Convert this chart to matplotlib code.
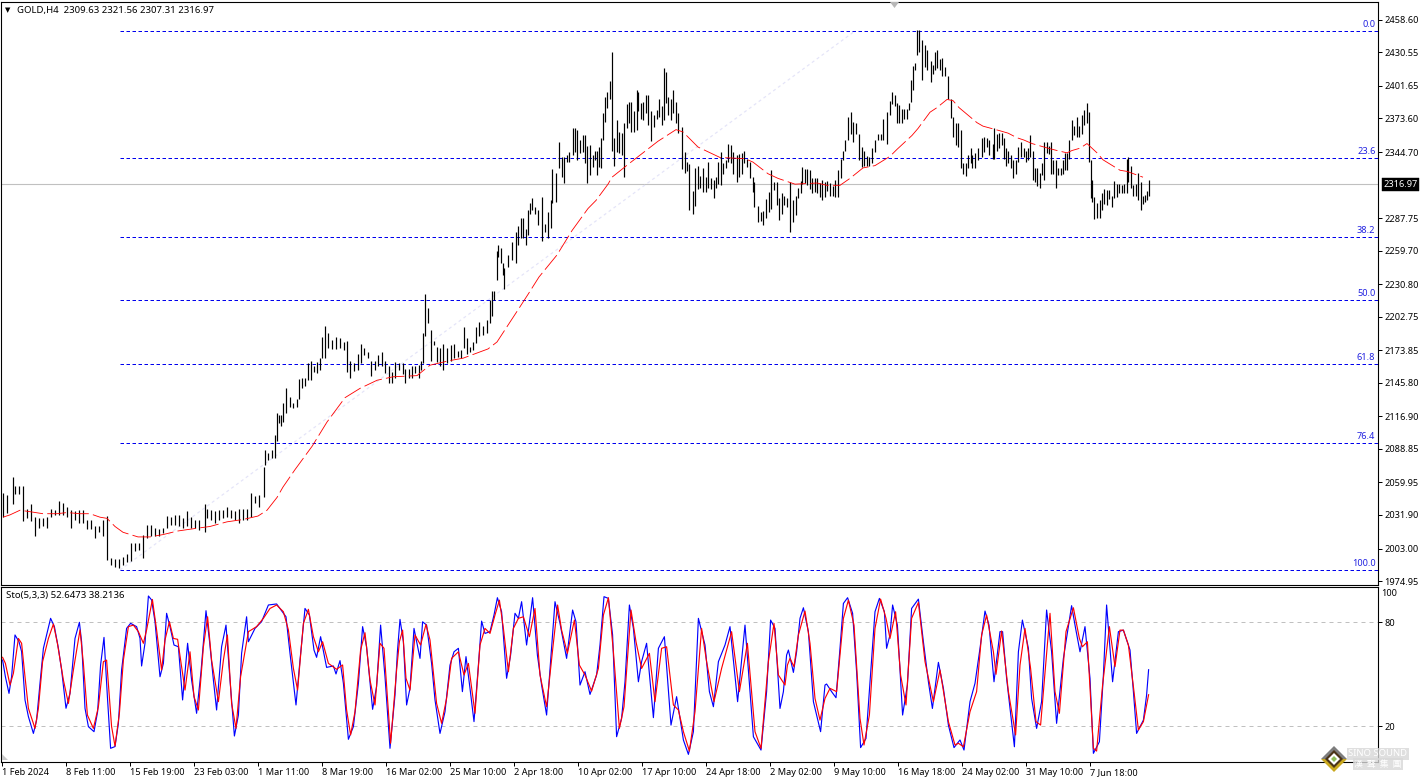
import numpy as np
import matplotlib
matplotlib.use('Agg')
import matplotlib.pyplot as plt
from matplotlib.patches import Polygon

# bar number on the 4H chart, 10 values per row in all three lists
bar_no = np.array([
    1.5, 3.5, 6.25, 7.5, 9.5, 11.5, 13.5, 15.5, 17.5, 19.5,
    21.5, 23.5, 25.5, 27.5, 29.5, 31.5, 33.5, 35.5, 37.5, 39.5,
    41.5, 43.5, 45.5, 47.5, 49.5, 51.5, 53.5, 55.5, 57.5, 59.5,
    61.5, 63.5, 65.5, 67.5, 69.5, 71.5, 73.5, 75.5, 77.5, 79.5,
    81.5, 83.5, 85.5, 87.5, 89.5, 91.5, 93.5, 95.5, 97.5, 99.5,
    102.5, 103.5, 105.5, 107.5, 109.5, 111.5, 113.5, 115.5, 117.5, 119.5,
    121.5, 123.5, 125.5, 127.5, 129.5, 132, 132.5, 134, 136, 137.5,
    138.5, 139.5, 140.5, 141.5, 143, 145, 146.5, 148.5, 149.5, 151,
    152.5, 154, 155.5, 157, 158.5, 160, 161, 162.5, 164, 166,
    168, 170, 172, 173.5, 175, 177, 179, 180.5, 182, 184,
    185.5, 187.5, 189, 191, 192.5, 194.5, 196, 197.5, 199.5, 201.5,
    202.5, 204.5, 206, 207.5, 209.5, 210.5, 211.5, 212.5, 214, 215.5,
    217, 218.5, 220, 221.5, 223.5, 225.5, 227, 229, 230.5, 232,
    233.5, 235, 236.5, 238, 239.5, 241.5, 243.5, 245, 246, 247,
    248.5, 249, 250.5, 251.5, 252, 254, 256, 258, 259, 260.5,
    261.5, 263, 264, 265, 266, 267.5, 269, 271, 272.5, 274,
    275.5, 276, 278, 279.5, 281, 282, 283.5, 284.5, 286.5, 287.5,
    288.5, 290, 291.5, 292.5, 293.5, 295, 296.5, 297.5, 298.5, 299.5,
    300.5, 301.5, 302.5, 303.5, 305, 306, 307, 308.5, 309.5, 311,
    312, 313.5, 314.5, 315.5, 317, 318.5, 319, 320.5, 321.5, 323,
    324, 325.5, 327, 328.5, 329.5, 331, 332, 333, 334, 335.5,
    336.5, 338, 339, 341, 342.5, 343.5, 344.5, 346.5, 347.5, 349,
    350, 351.5, 353, 354, 355.5, 357, 358, 359, 360.5, 361.5,
    363, 364, 365.5, 366.5, 368.5, 369.5, 371, 372, 373.5, 375,
    376.5, 377, 379, 380.5, 381.5, 383, 384.5, 385.5, 387, 388.5,
    389.5, 391, 392, 393.5, 395, 396.5, 398, 399, 400.5, 401,
    402.5, 403.5, 405, 406, 407.5, 408.5, 410, 411, 412.5, 413.5,
    415, 416.5, 417.5, 419, 420.5, 421.5, 422.5, 424, 425.5, 426.5,
    428, 429.5, 431, 432, 433.5, 434.5, 436, 437.5, 439, 440.5,
    441.5, 443.5, 445, 446, 447.5, 448.5, 449.5, 451, 452, 453.5,
    454.5, 455.5, 456.5, 457.5, 458.5, 459.5, 461, 462.5, 463.5, 465.5,
    466.5, 467.5, 468.5, 470, 471, 472.5, 474, 475.5, 476.5, 478,
    479, 480.5, 481.5, 483, 484, 485.5, 486, 487.5, 489, 491,
    492, 493.5, 494.5, 496.5, 497, 498.5, 499.5, 501, 502, 503,
    504, 505.5, 506.5, 508, 509, 510.5, 512, 513, 514, 515,
    516.5, 517.5, 518.5, 520, 521, 522, 523.5, 524.5, 525.5, 526.5,
    528, 529, 530.5, 531.5, 532.5, 533.5, 534.5, 536, 537, 538.5,
    539.5, 541, 542, 543.5, 544.5, 545.5, 546, 547, 548.5, 550,
    551, 552, 553.5, 554.5, 556, 557, 558.5, 559.5, 561, 562,
    563.5, 564, 565.5, 566.5, 568, 569, 570.5, 571.5, 572.5, 573.5,
    574.5,
])

high_price = [
    2051, 2049, 2065, 2057, 2057, 2057, 2037, 2041, 2030, 2029,
    2029, 2030, 2037, 2036, 2044, 2042, 2039, 2036, 2035, 2036,
    2036, 2028, 2028, 2022, 2022, 2028, 2031, 1995, 1994, 1994,
    1996, 1998, 2008, 2008, 2008, 2015, 2023, 2023, 2021, 2020,
    2021, 2031, 2030, 2032, 2032, 2029, 2035, 2030, 2028, 2028,
    2041, 2037, 2036, 2035, 2036, 2036, 2039, 2036, 2035, 2037,
    2037, 2037, 2051, 2048, 2049, 2073, 2088, 2085, 2088, 2101,
    2120, 2118, 2118, 2128, 2141, 2134, 2128, 2132, 2149, 2150,
    2150, 2163, 2165, 2160, 2164, 2167, 2185, 2195, 2189, 2183,
    2185, 2184, 2181, 2182, 2165, 2163, 2171, 2179, 2176, 2172,
    2165, 2165, 2170, 2172, 2165, 2160, 2155, 2164, 2163, 2163,
    2158, 2158, 2160, 2160, 2161, 2165, 2189, 2222, 2210, 2191,
    2182, 2177, 2176, 2179, 2176, 2178, 2179, 2173, 2174, 2194,
    2184, 2177, 2181, 2194, 2198, 2195, 2200, 2217, 2225, 2225,
    2259, 2265, 2262, 2249, 2245, 2256, 2267, 2276, 2281, 2288,
    2288, 2278, 2295, 2301, 2305, 2297, 2295, 2306, 2283, 2293,
    2303, 2330, 2327, 2353, 2340, 2340, 2342, 2345, 2365, 2365,
    2364, 2355, 2359, 2359, 2350, 2351, 2342, 2346, 2346, 2349,
    2357, 2378, 2392, 2396, 2406, 2431, 2357, 2372, 2362, 2361,
    2370, 2386, 2388, 2388, 2380, 2398, 2396, 2387, 2388, 2394,
    2394, 2380, 2377, 2381, 2390, 2384, 2417, 2414, 2392, 2390,
    2398, 2388, 2378, 2366, 2345, 2336, 2334, 2311, 2331, 2333,
    2324, 2331, 2323, 2336, 2322, 2321, 2323, 2336, 2345, 2335,
    2338, 2352, 2351, 2345, 2342, 2343, 2344, 2346, 2339, 2336,
    2323, 2319, 2298, 2293, 2294, 2304, 2310, 2329, 2319, 2319,
    2305, 2309, 2307, 2305, 2319, 2303, 2307, 2314, 2320, 2332,
    2330, 2330, 2329, 2322, 2322, 2322, 2318, 2321, 2319, 2320,
    2318, 2315, 2321, 2329, 2339, 2346, 2355, 2375, 2379, 2371,
    2370, 2360, 2349, 2346, 2341, 2340, 2348, 2355, 2360, 2360,
    2373, 2379, 2389, 2396, 2394, 2387, 2385, 2382, 2382, 2382,
    2387, 2407, 2419, 2421, 2450, 2450, 2441, 2437, 2433, 2423,
    2420, 2431, 2433, 2425, 2426, 2418, 2410, 2390, 2375, 2370,
    2370, 2364, 2335, 2335, 2342, 2348, 2342, 2344, 2348, 2357,
    2358, 2357, 2355, 2352, 2365, 2360, 2361, 2361, 2357, 2348,
    2346, 2342, 2338, 2338, 2349, 2353, 2348, 2346, 2348, 2359,
    2346, 2331, 2331, 2327, 2335, 2353, 2353, 2350, 2353, 2338,
    2338, 2331, 2331, 2338, 2344, 2344, 2355, 2372, 2367, 2375,
    2367, 2377, 2381, 2387, 2379, 2338, 2321, 2306, 2301, 2303,
    2309, 2313, 2312, 2312, 2307, 2320, 2317, 2317, 2316, 2317,
    2339, 2340, 2333, 2316, 2317, 2327, 2319, 2307, 2308, 2311,
    2321,
]

low_price = [
    2030, 2034, 2041, 2050, 2050, 2027, 2029, 2027, 2014, 2021,
    2022, 2021, 2030, 2032, 2032, 2032, 2030, 2021, 2028, 2025,
    2025, 2020, 2020, 2012, 2017, 2014, 1993, 1989, 1987, 1986,
    1989, 1991, 1992, 2001, 2002, 1995, 2012, 2014, 2014, 2014,
    2016, 2021, 2023, 2023, 2022, 2021, 2022, 2021, 2021, 2019,
    2017, 2029, 2028, 2025, 2028, 2029, 2030, 2029, 2028, 2025,
    2028, 2028, 2030, 2042, 2039, 2047, 2075, 2079, 2081, 2081,
    2096, 2111, 2109, 2112, 2120, 2125, 2124, 2125, 2132, 2141,
    2143, 2148, 2148, 2155, 2154, 2157, 2167, 2167, 2176, 2175,
    2175, 2176, 2174, 2155, 2150, 2156, 2157, 2163, 2170, 2167,
    2152, 2157, 2160, 2160, 2154, 2146, 2146, 2150, 2157, 2153,
    2146, 2150, 2150, 2154, 2150, 2157, 2163, 2186, 2197, 2165,
    2178, 2164, 2160, 2157, 2163, 2165, 2167, 2168, 2167, 2176,
    2171, 2172, 2174, 2180, 2186, 2187, 2189, 2197, 2203, 2217,
    2234, 2254, 2249, 2239, 2227, 2246, 2252, 2249, 2265, 2271,
    2271, 2265, 2273, 2291, 2295, 2291, 2282, 2268, 2276, 2271,
    2279, 2301, 2302, 2331, 2323, 2318, 2336, 2336, 2342, 2345,
    2338, 2344, 2345, 2335, 2318, 2325, 2332, 2338, 2325, 2332,
    2331, 2355, 2371, 2383, 2390, 2346, 2333, 2345, 2344, 2342,
    2323, 2365, 2370, 2362, 2362, 2364, 2380, 2373, 2372, 2378,
    2368, 2354, 2366, 2373, 2375, 2368, 2372, 2387, 2377, 2372,
    2378, 2370, 2361, 2330, 2327, 2328, 2295, 2291, 2298, 2313,
    2314, 2310, 2310, 2314, 2313, 2305, 2314, 2317, 2316, 2326,
    2331, 2336, 2335, 2326, 2319, 2323, 2326, 2335, 2332, 2322,
    2310, 2297, 2284, 2285, 2282, 2288, 2293, 2296, 2312, 2299,
    2286, 2291, 2299, 2297, 2276, 2284, 2290, 2305, 2309, 2317,
    2318, 2316, 2313, 2309, 2310, 2309, 2306, 2303, 2306, 2311,
    2307, 2307, 2306, 2306, 2322, 2338, 2346, 2355, 2360, 2353,
    2360, 2338, 2332, 2333, 2333, 2333, 2335, 2345, 2355, 2355,
    2355, 2352, 2377, 2386, 2384, 2370, 2370, 2370, 2373, 2373,
    2381, 2388, 2398, 2415, 2428, 2431, 2407, 2418, 2415, 2405,
    2412, 2415, 2417, 2415, 2410, 2410, 2390, 2374, 2358, 2351,
    2349, 2331, 2326, 2324, 2331, 2335, 2331, 2331, 2338, 2340,
    2345, 2349, 2342, 2339, 2339, 2346, 2348, 2351, 2339, 2333,
    2335, 2331, 2322, 2326, 2336, 2340, 2340, 2336, 2338, 2340,
    2321, 2319, 2315, 2314, 2325, 2321, 2344, 2343, 2326, 2326,
    2314, 2325, 2325, 2326, 2329, 2329, 2339, 2355, 2359, 2358,
    2358, 2360, 2368, 2370, 2336, 2305, 2302, 2287, 2288, 2288,
    2295, 2300, 2299, 2304, 2297, 2305, 2306, 2309, 2309, 2309,
    2309, 2319, 2314, 2307, 2307, 2303, 2295, 2300, 2302, 2303,
    2307,
]

ma_bar = [1.5, 5, 10, 14, 21.5, 28.5, 33.5, 40, 45, 50, 53.5, 57.5, 61.5, 69, 75,
          81.5, 88.5, 96.5, 105, 113.5, 121.5, 129, 133.5, 138.5, 141.5, 147.5,
          156, 163.5, 172.5, 180, 188.5, 196.5, 208.5, 215, 225, 231.5, 244, 248.5,
          259.5, 264, 269.5, 278.5, 286, 294, 298, 304, 306, 314, 318.5, 326, 329,
          338, 341.5, 349, 360, 372.5, 376.5, 384, 389, 397.5, 408.5, 413.5, 420,
          425, 431.5, 437.5, 445, 448.5, 456, 459, 465, 468.5, 473.5, 476.5, 479.5,
          488.5, 491.5, 500, 504, 508.5, 512, 516, 524, 528.5, 533.5, 536, 540,
          543.5, 548.5, 551.5, 560, 563.5, 571.5]
ma_price = [2030, 2032, 2036, 2035, 2033, 2033, 2034, 2033, 2033, 2030, 2029, 2022, 2017,
            2013, 2013, 2015, 2018, 2020, 2022, 2026, 2028, 2031, 2036, 2047, 2056, 2071,
            2091, 2112, 2133, 2141, 2148, 2151, 2152, 2161, 2165, 2167, 2175, 2181,
            2210, 2222, 2237, 2256, 2277, 2296, 2303, 2317, 2323, 2334, 2340, 2350, 2354,
            2364, 2362, 2349, 2340, 2339, 2336, 2326, 2322, 2317, 2318, 2316, 2316,
            2322, 2331, 2333, 2341, 2347, 2359, 2365, 2379, 2383, 2390, 2389, 2383,
            2370, 2367, 2363, 2361, 2357, 2355, 2352, 2348, 2346, 2344, 2346, 2348,
            2352, 2344, 2338, 2329, 2328, 2323]

# Sto(5,3,3) main line
sto_main_bar = [
    1.3, 2.7, 4.5, 5.8, 7.5, 9.5, 10.8, 12.5, 14.2, 16.7, 18.3, 20, 21.7, 23.3, 25.3,
    27.2, 29.2, 30.8, 33, 35, 37.5, 39.7, 40.8, 42.5, 44.2, 47, 48.8, 50.3, 52, 53.7,
    55.3, 57.5, 59.2, 60.8, 63.3, 65.3, 68.3, 70, 70.8, 72.5, 74.2, 75.8, 77.5, 80, 81.7,
    83.3, 85, 87, 89.2, 91.3, 93.8, 95.8, 98.3, 100.5, 103, 104.7, 106.7, 108.3, 110.8,
    113, 115, 117.2, 119.2, 120.8, 123.3, 124.2, 127.5, 130.8, 134.2, 138.3, 143, 145,
    148, 150, 152.5, 154.7, 157, 158.3, 160.3, 163.3, 166.7, 168, 170, 171.7, 174.2,
    176.7, 179.2, 181.3, 183.3, 186.3, 188.3, 190.3, 192.5, 195, 197.5, 198.7, 200, 201.7,
    203.3, 205, 207, 210, 211.3, 213.3, 215.8, 217.5, 220, 222.5, 225, 227, 229.2, 231.2,
    233, 235, 237, 239.2, 240.8, 242.5, 245, 247, 248.7, 250.8, 253.3, 255.3, 257.5,
    259.2, 260.8, 263.3, 266.3, 268.7, 270.8, 273.3, 275.3, 277.5, 280, 283.3, 286.3,
    288, 290, 292.5, 295, 298.3, 300, 302, 304.2, 306.3, 308.3, 310.8, 312.5, 314.7,
    316.7, 319.2, 320.8, 323.3, 326.7, 329.2, 332.2, 335.5, 338.3, 341.7, 344.2, 346.7,
    349.2, 352.5, 354.7, 356.7, 359.2, 362.5, 365, 368.8, 372.5, 376.7, 380.5, 383.3,
    385.3, 387.5, 390, 391.7, 393.3, 394.2, 396.7, 398.3, 400, 401.7, 404.2, 406.7, 408.7,
    410.3, 412.5, 413.3, 415.8, 418, 420, 421.7, 423.8, 426.3, 428.3, 430.3, 433, 435,
    437.5, 439.7, 442.2, 443.3, 445, 446.3, 448.7, 451.3, 453.7, 455.8, 459.2, 461.7,
    464.2, 466.2, 469.2, 471.7, 474.2, 477, 480, 482, 485, 487.5, 490, 492.5, 494.5, 497,
    500, 501.3, 503.3, 507.2, 509.2, 511.2, 514.2, 515.8, 518.3, 520.8, 523.3, 525.8,
    528.3, 531.7, 535.8, 537.8, 540, 542.5, 545, 546.7, 549.7, 551.7, 553.3, 556.3, 559.2,
    561.7, 565, 566.7, 568.3, 571.7, 573.3, 574.3,
]
sto_main = [
    58.2, 48.6, 39, 48.6, 72.7, 68.8, 63.1, 35.2, 25.6, 15.9, 23.6, 44.8, 65, 72.7, 82.3,
    77.5, 65, 52.5, 30.4, 39, 70.7, 80, 68.8, 30.4, 19.8, 16.9, 28.4, 55.4, 71.3, 37.1,
    7.3, 8.3, 21.7, 52.5, 76.5, 79.4, 77.5, 70.8, 54.8, 67.9, 95.2, 92.9, 80.4, 48.6, 56.3,
    85.2, 77.5, 66.9, 65.9, 35.2, 67.9, 46.7, 27.5, 51.5, 86.7, 69.8, 46.7, 29.4, 65.9,
    78.4, 46.7, 14.4, 26.5, 62.1, 83.2, 68.8, 76.5, 80.4, 90, 90.6, 83.2, 62.1,
    32.3, 58.2, 88, 84.2, 64, 59.8, 71.7, 54, 54.8, 50.2, 57.9, 44.8, 12.5,
    19.8, 44.8, 77.5, 65.9, 29.8, 42.9, 78.4, 48.6, 7.3, 38, 63, 81.7, 68.8,
    32.3, 41.9, 76.5, 59.2, 80.3, 78.4, 56.3, 35.2, 15.9, 28.4, 55.3, 63, 65, 40,
    60.2, 41.9, 22.7, 55.3, 80.7, 73.6, 74.6, 84.2, 94.2, 86.1, 47.7, 61.1, 85.2,
    82.3, 91.9, 66.9, 94.2, 61.1, 43.8, 26.5, 57.3, 91.9, 79.4, 59.2, 87.1,
    80.3, 43.8, 51.5, 38.4, 49.6, 66.9, 94.8, 93.8, 72.7, 14, 24.6, 45.7, 90,
    76.5, 45.7, 57.3, 67.9, 25, 65, 71.7, 20.7, 37.1, 12.1, 3.8, 16.9,
    82.3, 66.9, 40, 31.3, 57.3, 66.9, 77.5, 34.2, 78.4, 14, 6.3, 40,
    81.3, 76.5, 30.3, 40, 61.1, 64, 51.1, 63, 82.3, 88.4, 74.6, 34.2, 24.6,
    16.9, 43.8, 44.4, 40, 36.5, 65, 90.9, 94.2, 85.2, 51.5, 7.7, 13, 45.7,
    86.1, 93.8, 86.1, 65, 72.7, 90, 78.4, 26.5, 43.8, 88, 93.4, 68.8,
    45.7, 30.3, 56.9, 41.9, 20.7, 7.7, 12.1, 6.3, 34.2, 44.8, 65, 86.5, 78.4, 45.7,
    74.6, 74.6, 47.7, 8.2, 63, 81.3, 65, 36.1, 18.8, 34.2, 87.1, 63,
    21.7, 59.2, 89.6, 76.5, 63, 77.5, 47.7, 4.4, 11.1, 49.6, 90, 45.7, 74.6,
    75.5, 64, 40, 15.9, 23.6, 38, 52.6473,
]

# Sto(5,3,3) signal line
sto_signal_bar = [
    1.3, 2.7, 5, 6.7, 9.2, 10.8, 12.5, 14.2, 17.5, 19.2, 21.3, 24.2, 26.7, 28.7, 31.7,
    34.2, 36.7, 40, 41.7, 43.7, 46.7, 49.2, 51.7, 53.3, 55.8, 57.5, 59.7, 61.7, 64.2,
    66.7, 69.2, 71.7, 73.3, 76.2, 78.3, 80.8, 82.5, 84.7, 86.7, 88.8, 92.5, 95, 97, 99.2,
    101.7, 103.8, 105.8, 109.2, 111.7, 113.7, 115.8, 118, 120.3, 124.2, 128.3, 131.7, 135,
    138.3, 141.7, 144.2, 146.7, 148.8, 151.7, 154.2, 156.7, 159.2, 161.3, 164.2, 168.3,
    171.3, 173.3, 175.3, 177.5, 180.3, 182.5, 185, 187.5, 190, 192, 195.3, 198.3, 199.7,
    201.3, 203, 205, 207.5, 210.3, 213, 215, 218.3, 220.8, 223.3, 225.8, 229.2, 232,
    234.2, 237.5, 240, 242.5, 245, 247.5, 249.7, 251.7, 254.2, 256.7, 259.2, 261.7, 264.7,
    267.5, 270, 273.3, 276.2, 278.8, 280.8, 283.7, 287.2, 289.7, 292.5, 295.8, 299.2,
    301.7, 304.2, 306.7, 309.7, 312, 315.5, 318, 320.8, 324.7, 327.5, 330.8, 333.3, 336.7,
    339.2, 341.7, 344.7, 347.5, 350.8, 353.3, 357, 360.8, 365.8, 369.7, 373.7, 377.5,
    380.5, 384.2, 387, 389.2, 392.5, 393.7, 395, 397, 399.2, 402.5, 405, 407.5, 410,
    412.5, 415, 418.3, 421.7, 424.2, 427, 430, 432, 434.7, 437.5, 440.3, 443, 445, 447.8,
    450.3, 453, 455.8, 459.2, 462.5, 466.7, 470, 474.2, 477.5, 479.2, 481.7, 485, 488.3,
    490.8, 493.3, 496.7, 498, 500.8, 504.2, 507.8, 510, 512.5, 515.3, 518, 520.3, 525,
    527.5, 529.7, 533, 536.7, 539.7, 541.2, 543.7, 546.7, 548.3, 551.3, 554.7, 557.5, 560,
    561.7, 564.2, 567, 569.2, 571.7, 574.3,
]
sto_signal = [
    59.8, 56.3, 43.8, 50.6, 70.7, 67.9, 48.6, 30.4, 18.8, 30.4, 57.3, 70.7, 79, 67.9, 46.7,
    33.2, 52.5, 75.6, 56.3, 26.5, 18.8, 31.3, 57.3, 58.2, 19.8, 8.6, 27.5, 58.2, 77.5,
    78.4, 74.6, 67.9, 75.6, 93.2, 75.6, 52.5, 69.8, 80.4, 70.7, 70.2, 40.9, 63, 37.1, 29.4,
    65.9, 83.2, 58.2, 34.2, 58.2, 72.7, 33.2, 18.8, 48.6, 74.6, 77.5, 82.3, 88,
    90, 86.1, 75.6, 53.4, 40.9, 79.4, 87.5, 71.7, 63, 68.8, 56.3, 52.9,
    55.4, 29.4, 15, 28.4, 64, 74, 46.7, 32.3, 67.9, 65, 10.2, 52.5, 68.8,
    75.5, 47.7, 40.9, 72.7, 66.9, 78.8, 69.8, 33.2, 21.7, 36.1, 59.2, 63, 49.6,
    56.3, 27.5, 66.9, 76.5, 73.6, 84.2, 92.8, 76.5, 51.5, 76.5, 82.3, 83.2, 71.7,
    88, 49.6, 31.3, 63, 90, 75.5, 62.1, 81.3, 55.3, 49.6, 40.3, 53.4,
    84.2, 94.2, 63, 18.8, 31.3, 87.1, 68.8, 53.4, 62.1, 34.2, 65, 65.9, 32.3,
    29.4, 16.9, 5.7, 28.4, 76.5, 57.3, 34.2, 53.4, 74.6, 40, 67.9, 16.9,
    7.3, 57.3, 79.4, 49.6, 43.8, 55.3, 59.2, 54.4, 72.7, 86.5, 67.9, 36.1, 23.6,
    36.1, 41.9, 40, 82.3, 92.8, 78.4, 24.6, 9.2, 26.5, 76.5, 93.4, 82.3, 70.7, 86.1,
    49.6, 32.3, 82.3, 91.5, 57.3, 34.2, 52.5, 22.7, 9.2, 10.2, 8.2, 28.4, 40,
    72.7, 84.2, 63, 50, 75, 40, 15, 55.3, 76.5, 53.4, 22.7, 20.7, 85.2,
    40, 27.5, 74.6, 88.4, 70.7, 65.9, 68.8, 7.3, 5.7, 43.8, 77.5, 54.4, 75.5,
    75.5, 66.9, 40, 17.9, 22.7, 38.2136,
]

fib_labels = ['0.0', '23.6', '38.2', '50.0', '61.8', '76.4', '100.0']
fib_prices = [2449, 2339.6, 2271.5, 2217.2, 2162, 2094, 1984.5]
fib_start_bar = 60
fib_anchor_bar = 427.5

last_price = 2316.97
price_ticks = [2458.60, 2430.55, 2401.65, 2373.60, 2344.70, 2287.75, 2259.70, 2230.80,
               2202.75, 2173.85, 2145.80, 2116.90, 2088.85, 2059.95, 2031.90, 2003.00, 1974.95]

date_bars = [1, 33, 65, 97, 129, 161, 193, 225, 257, 289, 321, 353, 385, 417, 449, 481, 513, 545]
date_labels = ['1 Feb 2024', '8 Feb 11:00', '15 Feb 19:00', '23 Feb 03:00', '1 Mar 11:00',
               '8 Mar 19:00', '16 Mar 02:00', '25 Mar 10:00', '2 Apr 18:00', '10 Apr 02:00',
               '17 Apr 10:00', '24 Apr 18:00', '2 May 02:00', '9 May 10:00', '16 May 18:00',
               '24 May 02:00', '31 May 10:00', '7 Jun 18:00']

W, H = 1421, 781
plt.rcParams['font.family'] = ['Noto Sans', 'DejaVu Sans']
plt.rcParams['font.size'] = 6.6
PX = 0.72  # one pixel in points

fig = plt.figure(figsize=(W / 100, H / 100), dpi=100)


def px_axes(left, top, right, bottom):
    return fig.add_axes([left / W, 1 - bottom / H, (right - left) / W, (bottom - top) / H])


ax = px_axes(1, 2, 1377.5, 584.5)
ax2 = px_axes(1, 587, 1377.5, 761.5)

xlim = (0.5, 688.75)
for a in (ax, ax2):
    a.set_xlim(*xlim)
    for s in a.spines.values():
        s.set_linewidth(PX * 1.1)

ax.set_ylim(2449 - (584.5 - 31) * 0.8618, 2449 + (31 - 2) * 0.8618)
ax2.set_ylim(20 + (726.3 - 761.5) / 1.733, 20 + (726.3 - 587) / 1.733)

# price panel
ax.axhline(last_price, color='#c0c0c0', lw=PX * 1.1, zorder=1)
ax.plot([fib_start_bar, fib_anchor_bar], [fib_prices[-1], fib_prices[0]],
        color='#e4e4f8', lw=PX * 1.2, ls=(0, (2.5, 2.5)), zorder=1)
for lab, p in zip(fib_labels, fib_prices):
    ax.plot([fib_start_bar, xlim[1]], [p, p], color='#0000ee', lw=PX, ls=(0, (3.5, 2.5)), zorder=2)
    ax.annotate(lab, (xlim[1], p), xytext=(-1.5, 1.2), textcoords='offset points',
                ha='right', va='bottom', color='#2020e0', fontsize=6.6)
ax.vlines(bar_no, low_price, high_price, color='black', lw=PX * 1.2, zorder=3)
ax.plot(ma_bar, ma_price, color='#ff0000', lw=PX * 0.85, ls=(0, (22, 5)), zorder=4)

ax.yaxis.tick_right()
ax.set_yticks(price_ticks, labels=[f'{p:.2f}' for p in price_ticks])
ax.tick_params(axis='y', length=3, width=PX, pad=2)
ax.set_xticks([])

# stochastic panel
for lev in (80, 20):
    ax2.axhline(lev, color='#c0c0c0', lw=PX, ls=(0, (4, 4)), zorder=1)
ax2.plot(sto_main_bar, sto_main, color='#0000ff', lw=PX * 1.15, zorder=2)
ax2.plot(sto_signal_bar, sto_signal, color='#ff0000', lw=PX * 1.15, zorder=3)
ax2.yaxis.tick_right()
ax2.set_yticks([80, 20], labels=['80', '20'])
ax2.tick_params(axis='y', length=3, width=PX, pad=2)
ax2.set_xticks(date_bars, labels=date_labels, ha='left')
ax2.tick_params(axis='x', length=3, width=PX, pad=1.5)

# overlay in pixel coordinates for the terminal furniture
ov = fig.add_axes([0, 0, 1, 1], zorder=10)
ov.set_xlim(0, W)
ov.set_ylim(H, 0)
ov.axis('off')
ov.patch.set_alpha(0)

ov.text(5, 10.5, '\u25bc', fontsize=5, va='center', ha='left', family='DejaVu Sans')
ov.text(17, 10.5, 'GOLD,H4  2309.63 2321.56 2307.31 2316.97', va='center', ha='left', fontsize=6.9)
ov.text(6, 595.5, 'Sto(5,3,3) 52.6473 38.2136', va='center', ha='left', fontsize=6.9)
ov.text(1381, 594, '100', va='center', ha='left')
ov.text(1383.5, 184.5, f'{last_price:.2f}', color='white', va='center', ha='left',
        bbox=dict(boxstyle='square,pad=0.18', fc='black', ec='black', lw=0.3))
ov.add_patch(Polygon([[890, 2], [899, 2], [894.5, 8]], fc='#b8b8b8', ec='none'))
ov.add_patch(Polygon([[2, 754], [2, 760], [8, 760]], fc='#c8c8c8', ec='none'))

# Sino Sound logo in the corner
cx, cy = 1334, 759
ov.add_patch(Polygon([[cx - 13, cy], [cx, cy - 13], [cx + 13, cy]], fc='#7d7d7d', ec='none'))
ov.add_patch(Polygon([[cx - 13, cy], [cx, cy + 13], [cx + 13, cy]], fc='#c9a81e', ec='none'))
ov.add_patch(Polygon([[cx - 9, cy], [cx, cy - 9], [cx + 9, cy], [cx, cy + 9]], fc='#4a3418', ec='none'))
ov.add_patch(Polygon([[cx - 6, cy], [cx, cy - 6], [cx + 6, cy], [cx, cy + 6]], fc='white', ec='none'))
ov.add_patch(Polygon([[cx - 3, cy], [cx, cy - 3], [cx + 3, cy], [cx, cy + 3]], fc='#8fbf5a', ec='none'))
shadow = dict(boxstyle='square,pad=0.15', fc='#d8d8d8', ec='none', alpha=0.8)
ov.text(1378, 754, 'SINO SOUND', color='white', fontsize=6.8, fontweight='bold', va='center', ha='center', bbox=shadow)
ov.text(1378, 764, '\u6f22  \u8072  \u96c6  \u5718', color='white', fontsize=6.4, va='center', ha='center',
        family=['Noto Sans CJK TC', 'DejaVu Sans'], bbox=shadow)

fig.savefig('out.png', dpi=100)
